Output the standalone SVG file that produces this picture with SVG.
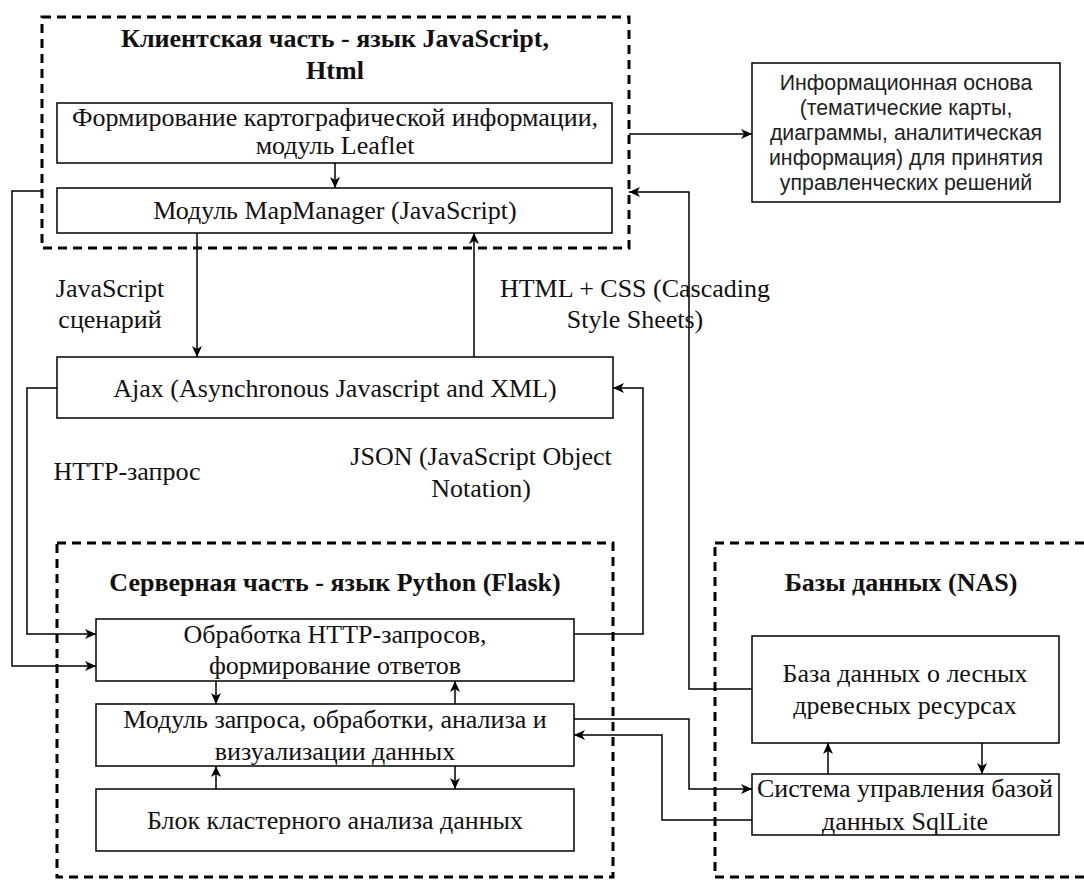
<svg xmlns="http://www.w3.org/2000/svg" width="1084" height="880" viewBox="0 0 1084 880">
<defs>
<style>
.grp{fill:none;stroke:#000;stroke-width:3;stroke-dasharray:9 6}
.box{fill:#fff;stroke:#000;stroke-width:1.5}
.t{font-family:"Liberation Serif","Times New Roman",serif;font-size:26px;fill:#111;text-anchor:middle}
.h{font-family:"Liberation Serif","Times New Roman",serif;font-size:26px;font-weight:bold;fill:#111;text-anchor:middle}
.s{font-family:"Liberation Sans",Arial,sans-serif;font-size:21.3px;fill:#222;text-anchor:middle}
.c{fill:none;stroke:#000;stroke-width:1.5}
</style>
<marker id="a" markerUnits="userSpaceOnUse" markerWidth="12" markerHeight="10" refX="11" refY="5" orient="auto">
<path d="M0,0 L11,5 L0,10 L3,5 Z" fill="#000"/>
</marker>
</defs>
<rect width="1084" height="880" fill="#fff"/>

<g id="client-group">
<rect class="grp" x="42" y="17" width="587" height="231"/>
<text class="h" x="335" y="47">Клиентская часть - язык JavaScript,</text>
<text class="h" x="335" y="79">Html</text>
</g>
<g id="server-group">
<rect class="grp" x="57" y="543" width="556" height="334"/>
<text class="h" x="335" y="591">Серверная часть - язык Python (Flask)</text>
</g>
<g id="db-group">
<rect class="grp" x="715" y="543" width="400" height="334"/>
<text class="h" x="901" y="591">Базы данных (NAS)</text>
</g>

<g id="leaflet">
<rect class="box" x="57" y="103" width="555" height="60"/>
<text class="t" x="335" y="126">Формирование картографической информации,</text>
<text class="t" x="335" y="154">модуль Leaflet</text>
</g>
<g id="mapmanager">
<rect class="box" x="57" y="188" width="555" height="45"/>
<text class="t" x="335" y="219">Модуль MapManager (JavaScript)</text>
</g>
<g id="info">
<rect class="box" x="752" y="63" width="308" height="139"/>
<text class="s" x="906" y="90">Информационная основа</text>
<text class="s" x="906" y="115">(тематические карты,</text>
<text class="s" x="906" y="140">диаграммы, аналитическая</text>
<text class="s" x="906" y="165">информация) для принятия</text>
<text class="s" x="906" y="190">управленческих решений</text>
</g>
<g id="ajax">
<rect class="box" x="57" y="357" width="556" height="61"/>
<text class="t" x="335" y="397">Ajax (Asynchronous Javascript and XML)</text>
</g>
<g id="http-handler">
<rect class="box" x="96" y="619" width="478" height="62"/>
<text class="t" x="335" y="643">Обработка HTTP-запросов,</text>
<text class="t" x="335" y="674">формирование ответов</text>
</g>
<g id="analysis">
<rect class="box" x="96" y="704" width="478" height="62"/>
<text class="t" x="335" y="728">Модуль запроса, обработки, анализа и</text>
<text class="t" x="335" y="760">визуализации данных</text>
</g>
<g id="cluster">
<rect class="box" x="96" y="789" width="478" height="62"/>
<text class="t" x="335" y="829">Блок кластерного анализа данных</text>
</g>
<g id="forest-db">
<rect class="box" x="752" y="636" width="307" height="107"/>
<text class="t" x="905" y="682">База данных о лесных</text>
<text class="t" x="905" y="714">древесных ресурсах</text>
</g>
<g id="sqlite">
<rect class="box" x="752" y="774" width="307" height="61"/>
<text class="t" x="905" y="797">Система управления базой</text>
<text class="t" x="905" y="830">данных SqlLite</text>
</g>

<g id="connectors">
<path class="c" d="M335,163 L335,188" marker-end="url(#a)"/>
<path class="c" d="M629,134 L752,134" marker-end="url(#a)"/>
<path class="c" d="M752,689 L689,689 L689,192 L629,192" marker-end="url(#a)"/>
<path class="c" d="M42,191 L12,191 L12,666 L96,666" marker-end="url(#a)"/>
<path class="c" d="M197,233 L197,357" marker-end="url(#a)"/>
<path class="c" d="M474,357 L474,233" marker-end="url(#a)"/>
<path class="c" d="M57,388 L27,388 L27,634 L96,634" marker-end="url(#a)"/>
<path class="c" d="M574,634 L643,634 L643,388 L613,388" marker-end="url(#a)"/>
<path class="c" d="M216,681 L216,704" marker-end="url(#a)"/>
<path class="c" d="M455,704 L455,681" marker-end="url(#a)"/>
<path class="c" d="M216,789 L216,766" marker-end="url(#a)"/>
<path class="c" d="M455,766 L455,789" marker-end="url(#a)"/>
<path class="c" d="M574,719 L689,719 L689,789 L752,789" marker-end="url(#a)"/>
<path class="c" d="M752,820 L662,820 L662,735 L574,735" marker-end="url(#a)"/>
<path class="c" d="M828,774 L828,743" marker-end="url(#a)"/>
<path class="c" d="M982,743 L982,774" marker-end="url(#a)"/>
<text class="t" x="110" y="297">JavaScript</text>
<text class="t" x="110" y="328">сценарий</text>
<text class="t" x="635" y="297">HTML + CSS (Cascading</text>
<text class="t" x="635" y="328">Style Sheets)</text>
<text class="t" x="127" y="480">HTTP-запрос</text>
<text class="t" x="481" y="465">JSON (JavaScript Object</text>
<text class="t" x="481" y="497">Notation)</text>
</g>
</svg>
